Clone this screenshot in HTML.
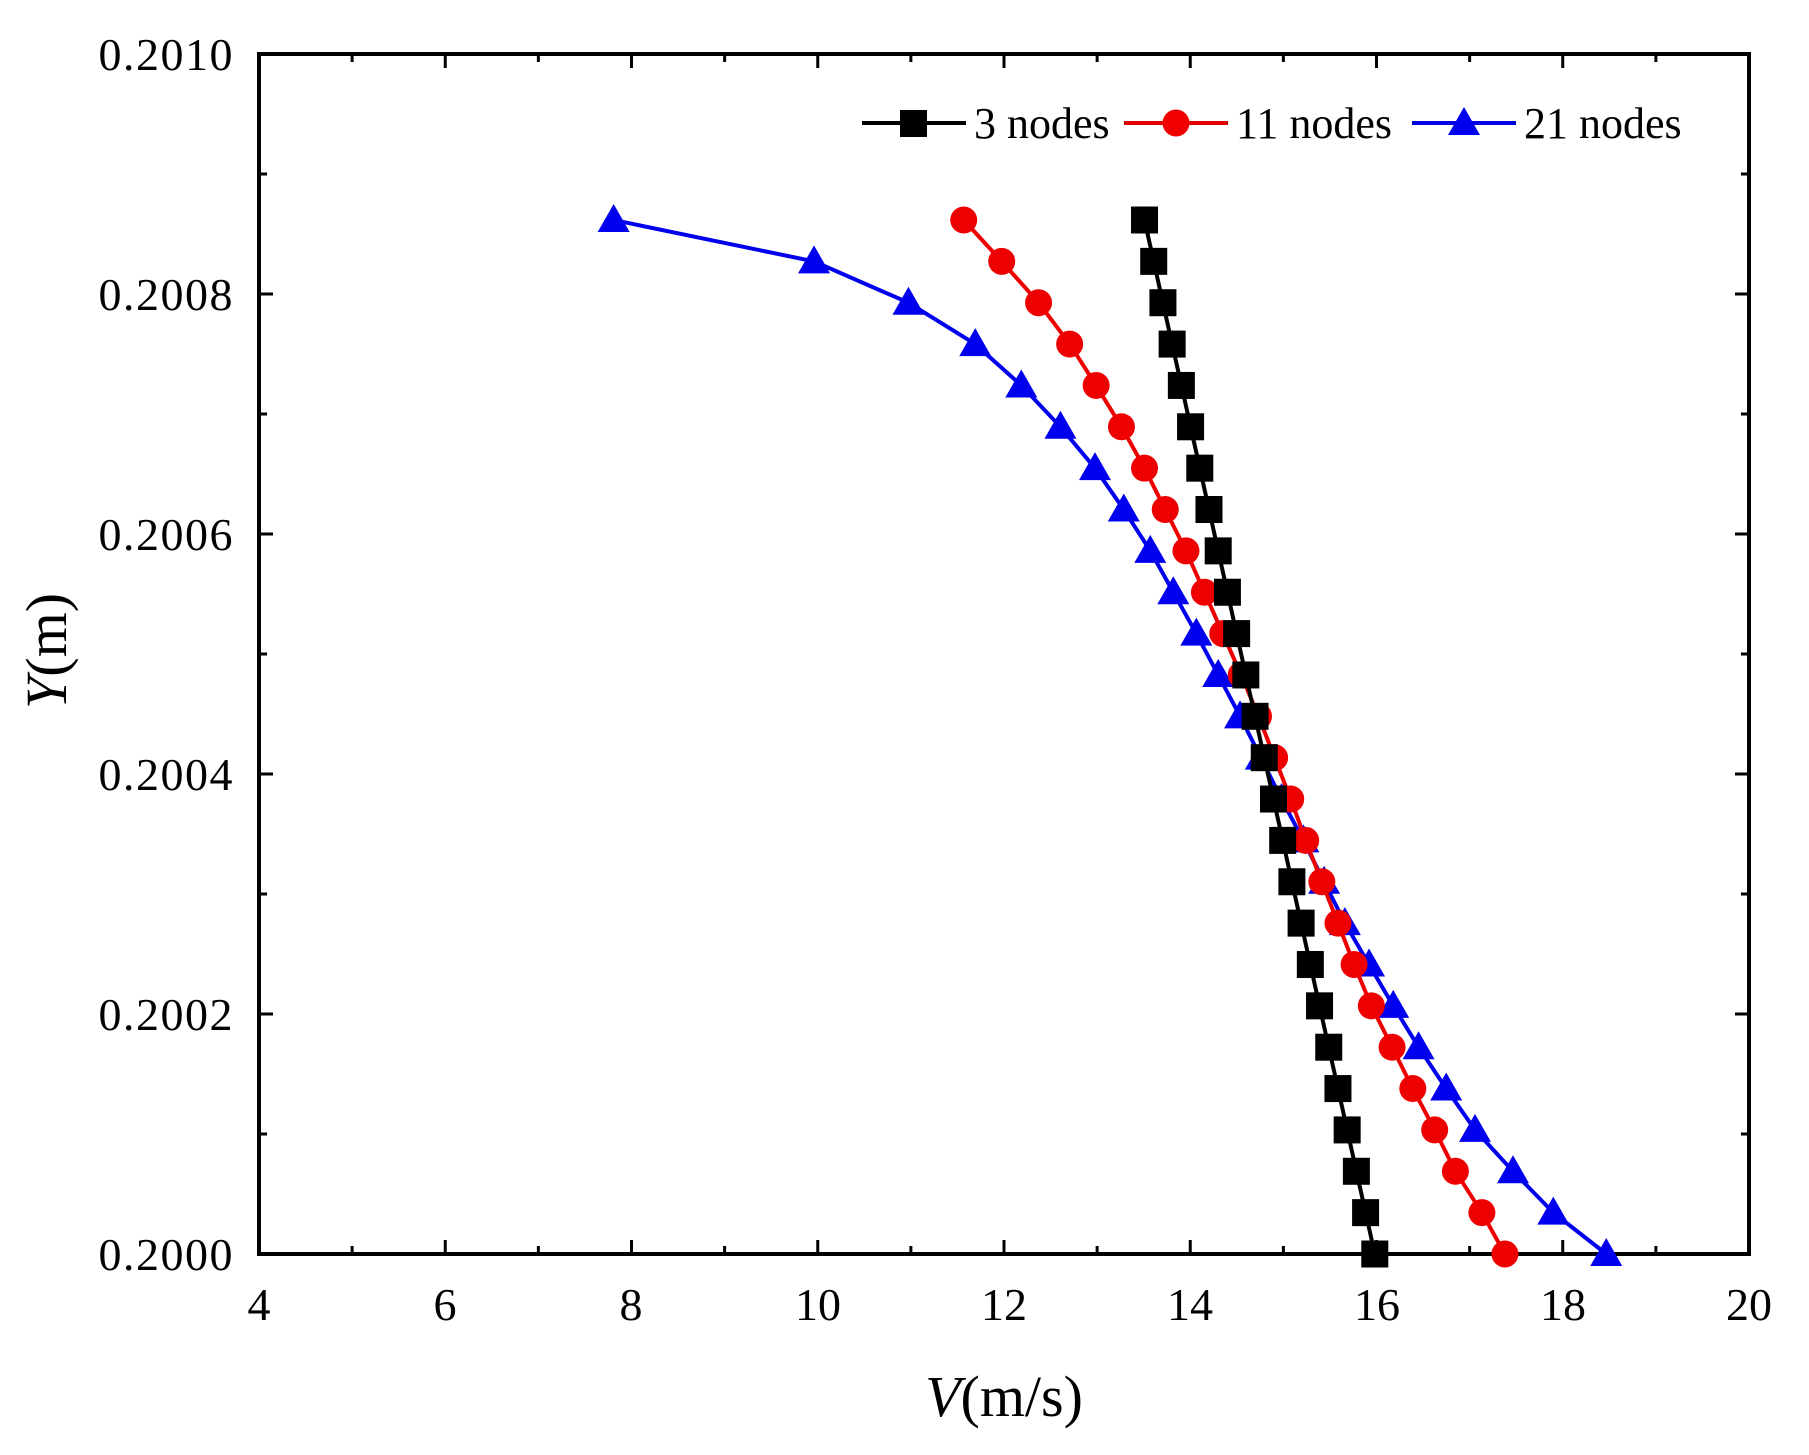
<!DOCTYPE html>
<html><head><meta charset="utf-8"><style>
html,body{margin:0;padding:0;background:#fff;}
svg{display:block;font-family:"Liberation Serif",serif;}
</style></head><body>
<svg id="s" width="1809" height="1455" viewBox="0 0 1809 1455" xmlns="http://www.w3.org/2000/svg">
<g font-size="46" fill="#000" text-anchor="end" letter-spacing="1.5">
<text x="234" y="70">0.2010</text>
<text x="234" y="310">0.2008</text>
<text x="234" y="550">0.2006</text>
<text x="234" y="790">0.2004</text>
<text x="234" y="1030">0.2002</text>
<text x="234" y="1270">0.2000</text>
</g>
<g font-size="46" fill="#000" text-anchor="middle">
<text x="259" y="1320">4</text>
<text x="445" y="1320">6</text>
<text x="631" y="1320">8</text>
<text x="818" y="1320">10</text>
<text x="1004" y="1320">12</text>
<text x="1190" y="1320">14</text>
<text x="1377" y="1320">16</text>
<text x="1563" y="1320">18</text>
<text x="1749" y="1320">20</text>
</g>
<text x="1004" y="1416" font-size="58" text-anchor="middle"><tspan font-style="italic">V</tspan>(m/s)</text>
<text transform="translate(66,651) rotate(-90)" font-size="58" text-anchor="middle"><tspan font-style="italic">Y</tspan>(m)</text>
<g id="ticks" stroke="#000" stroke-width="3"></g>
<rect x="259" y="54" width="1490" height="1200" fill="none" stroke="#000" stroke-width="4"/>
<g id="data"></g>
<g font-size="44" fill="#000">
<line x1="862" y1="123" x2="966" y2="123" stroke="#000" stroke-width="4"/>
<rect x="900" y="110" width="27" height="27" fill="#000"/>
<text x="974" y="138">3 nodes</text>
<line x1="1124" y1="123" x2="1228" y2="123" stroke="#e00000" stroke-width="4"/>
<circle cx="1176" cy="123" r="13.5" fill="#f00000"/>
<text x="1236" y="138">11 nodes</text>
<line x1="1412" y1="123" x2="1516" y2="123" stroke="#0000e0" stroke-width="4"/>
<polygon points="1464,107 1480,135 1448,135" fill="#0000f0"/>
<text x="1524" y="138">21 nodes</text>
</g>
</svg>
<script>
var NS="http://www.w3.org/2000/svg";
function el(t,a,p){var e=document.createElementNS(NS,t);for(var k in a)e.setAttribute(k,a[k]);p.appendChild(e);return e;}
var tk=document.getElementById('ticks');
for(var v=4;v<=20;v++){var x=259+(v-4)*1490/16;var L=(v%2==0)?14:8;
el('line',{x1:x,y1:1254,x2:x,y2:1254-L},tk);el('line',{x1:x,y1:54,x2:x,y2:54+L},tk);}
for(var i=0;i<=10;i++){var y=1254-i*120;var L=(i%2==0)?14:8;
el('line',{x1:259,y1:y,x2:259+L,y2:y},tk);el('line',{x1:1749,y1:y,x2:1749-L,y2:y},tk);}
function X(d){return 259+(d-224)*1.1515;}
var red=[836,869,901,928,951,973,993,1011,1029,1045,1061,1077,1092,1106,1120,1133,1147,1161,1175,1190,1208,1226,1245,1263,1286,1306];
var blue=[532,706,788,846,886,920,950,975,998,1018,1038,1057,1076,1094,1112,1131,1149,1167,1188,1209,1231,1255,1280,1313,1348,1394];
var black=[];for(var i=0;i<26;i++)black.push(993+(1193-993)*i/25);
var g=document.getElementById('data');
function Y(i){return 220+(1254-220)*i/25;}
function series(arr,col,mk){
 var pts=arr.map(function(d,i){return X(d).toFixed(1)+','+Y(i).toFixed(1);}).join(' ');
 el('polyline',{points:pts,fill:'none',stroke:col,'stroke-width':4},g);
 arr.forEach(function(d,i){var x=X(d),y=Y(i);
  if(mk=='s')el('rect',{x:x-13.5,y:y-13.5,width:27,height:27,fill:col},g);
  else if(mk=='c')el('circle',{cx:x,cy:y,r:13.5,fill:col},g);
  else el('polygon',{points:x+','+(y-16)+' '+(x+16)+','+(y+12)+' '+(x-16)+','+(y+12),fill:col},g);});
}
series(blue,'#0000ee','t');
series(red,'#ee0000','c');
series(black,'#000000','s');
</script>
</body></html>
